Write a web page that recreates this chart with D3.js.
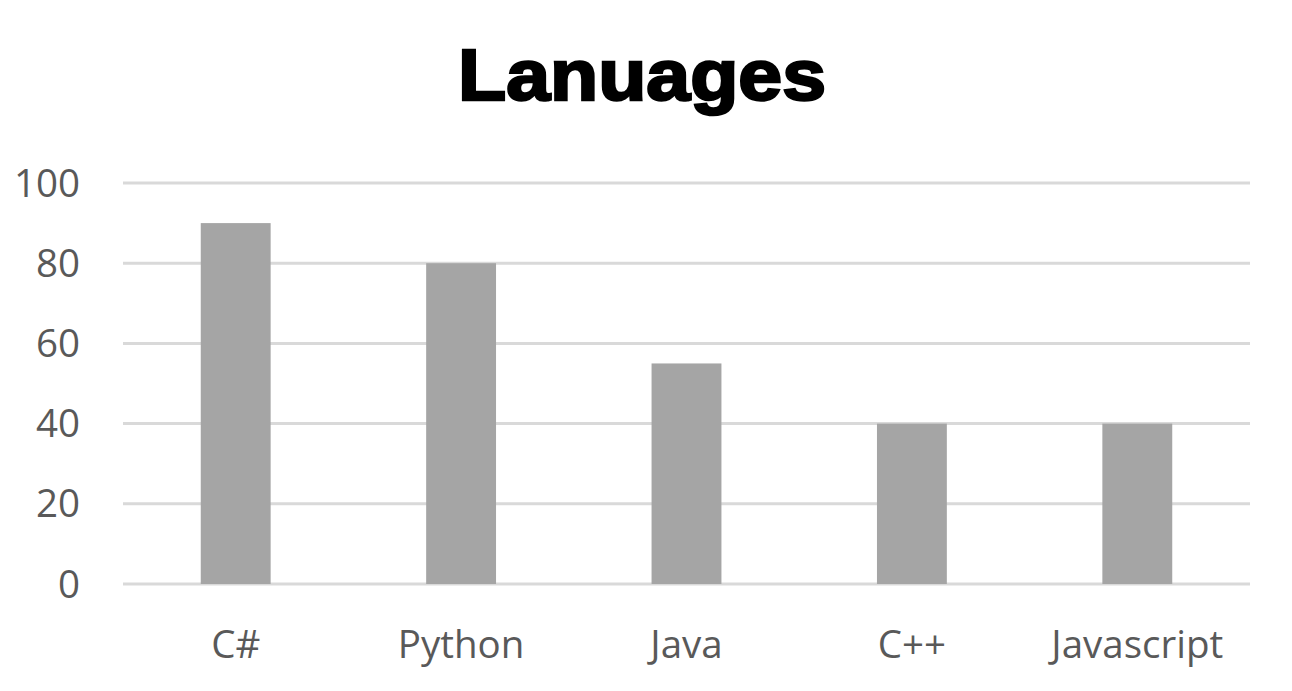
<!DOCTYPE html>
<html><head><meta charset="utf-8">
<script src="https://cdn.jsdelivr.net/npm/d3@7"></script>
<style>body{margin:0;background:#fff}</style>
</head><body>
<svg id="c" width="1292" height="691"></svg>
<script>
const categories = ["C#", "Python", "Java", "C++", "Javascript"];
const values = [90, 80, 55, 40, 40];
const yTicks = [0, 20, 40, 60, 80, 100];
const title = "Lanuages";

const svg = d3.select("#c");
const W = 1292, H = 691;
svg.append("rect").attr("width", W).attr("height", H).attr("fill", "#fff");

const x = d3.scaleBand().domain(categories).range([123, 1250]).paddingInner(0.69).paddingOuter(0.345);
const y = d3.scaleLinear().domain([0, 100]).range([584, 183]);

// gridlines
svg.append("g").selectAll("line").data(yTicks).join("line")
  .attr("x1", 123).attr("x2", 1250)
  .attr("y1", d => y(d)).attr("y2", d => y(d))
  .attr("stroke", "#d9d9d9").attr("stroke-width", 3);

// bars
svg.append("g").selectAll("rect").data(values).join("rect")
  .attr("x", (d, i) => x(categories[i]))
  .attr("width", x.bandwidth())
  .attr("y", d => y(d))
  .attr("height", d => y(0) - y(d))
  .attr("fill", "#a5a5a5");

// y axis labels
const yAxis = d3.axisLeft(y).tickValues(yTicks).tickSize(0).tickPadding(0);
const gy = svg.append("g").attr("transform", "translate(80,0)").call(yAxis);
gy.select(".domain").remove();
gy.selectAll("text").attr("font-family", "'Open Sans', sans-serif").attr("font-size", 38.5)
  .attr("fill", "#595959").attr("dy", "0.34em");

// x axis labels
const xAxis = d3.axisBottom(x).tickSize(0).tickPadding(0);
const gx = svg.append("g").attr("transform", "translate(0,658)").call(xAxis);
gx.select(".domain").remove();
gx.selectAll("text").attr("font-family", "'Open Sans', sans-serif").attr("font-size", 38.5)
  .attr("fill", "#595959").attr("dy", "0");

// title
svg.append("text").attr("x", 642).attr("y", 100).attr("text-anchor", "middle")
  .attr("font-family", "'Liberation Sans', Arial, sans-serif").attr("font-weight", "bold")
  .attr("font-size", 72).attr("fill", "#000").attr("stroke", "#000").attr("stroke-width", 2.5)
  .attr("textLength", 368).attr("lengthAdjust", "spacingAndGlyphs")
  .text(title);
</script>
</body></html>
